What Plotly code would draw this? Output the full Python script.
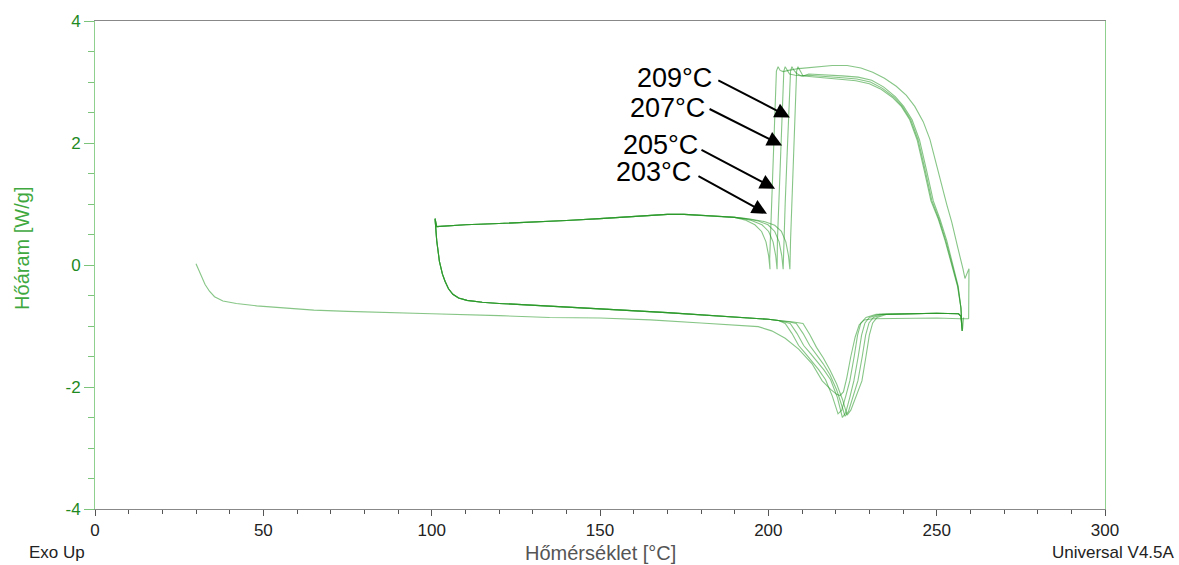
import plotly.graph_objects as go

# ---------------- data ----------------
# first heating 30 -> 260 C
heat1_T = [30, 30.6, 31.5, 32.7, 34, 35.5, 38, 42, 48, 55, 65, 75, 90, 100, 120, 135, 150, 165,
           180, 190, 197, 201, 205, 209, 213, 216, 218.5, 220.3, 221.3, 222.3, 223.3, 224.5, 225.8,
           227, 228.5, 231, 240, 250, 257, 259.5]
heat1_HF = [0.02, -0.05, -0.18, -0.32, -0.43, -0.52, -0.59, -0.63, -0.67, -0.70, -0.74, -0.76, -0.79,
            -0.80, -0.83, -0.86, -0.87, -0.90, -0.95, -0.98, -1.01, -1.08, -1.2, -1.38, -1.62, -1.9,
            -2.04, -2.12, -2.14, -2.08, -1.85, -1.5, -1.18, -0.98, -0.9, -0.88, -0.87, -0.87, -0.88, -0.88]

# cooling segments (260 C -> isothermal step)
coolA_T = [259.5, 259.6, 258.4, 257.8, 256.2, 254.5, 253, 251, 249.5, 248, 246, 243.5, 241, 238,
           234.5, 231, 227.5, 223.4, 219, 214, 209, 206, 204.4, 203.5, 202.9, 202.4, 202.0, 201.4,
           200.9, 200.5, 200.4, 200.5]
coolA_HF = [-0.88, -0.06, -0.22, -0.06, 0.3, 0.7, 0.99, 1.42, 1.75, 2.06, 2.35, 2.6, 2.78, 2.93,
            3.06, 3.16, 3.23, 3.27, 3.27, 3.25, 3.22, 3.19, 3.17, 3.19, 3.25, 3.18, 2.6, 1.7,
            1.0, 0.4, 0.1, -0.07]
coolB_T = [257.6, 257.2, 256.2, 254.5, 252.5, 250.5, 248.3, 246.3, 244.2, 242, 239.5, 237, 233.5,
           230, 226, 222, 216, 211, 208, 206.3, 205.5, 205.0, 204.6, 204.2, 203.7, 203.1, 202.7, 202.6]
coolB_HF = [-1.08, -0.7, -0.35, 0.0, 0.4, 0.75, 1.05, 1.55, 2.05, 2.38, 2.6, 2.74, 2.88, 2.97, 3.02,
            3.04, 3.07, 3.09, 3.11, 3.13, 3.2, 3.25, 3.18, 2.6, 1.7, 1.0, 0.4, -0.07]
coolC_T = [257.6, 257.2, 256.3, 254.7, 252.7, 250.7, 248.6, 246.6, 244.5, 242.3, 239.8, 237.3, 233.8,
           230.3, 226.3, 222, 216, 212, 209.8, 208.4, 207.5, 207.0, 206.6, 206.1, 205.5, 205.0, 204.6, 204.4]
coolC_HF = [-1.08, -0.7, -0.35, 0.0, 0.4, 0.75, 1.05, 1.55, 2.05, 2.38, 2.6, 2.75, 2.9, 3.0, 3.05,
            3.07, 3.1, 3.11, 3.1, 3.14, 3.2, 3.25, 3.18, 2.6, 1.7, 1.0, 0.4, -0.07]
coolD_T = [257.6, 257.2, 256.4, 254.9, 253.0, 251.0, 249.0, 247.0, 244.9, 242.7, 240.2, 237.7, 234.2,
           230.7, 226.7, 222, 216, 212, 210.3, 209.3, 208.8, 208.4, 208.0, 207.5, 207.0, 206.6, 206.4]
coolD_HF = [-1.08, -0.7, -0.35, 0.0, 0.4, 0.75, 1.05, 1.55, 2.05, 2.38, 2.6, 2.76, 2.92, 3.03, 3.08,
            3.1, 3.12, 3.13, 3.1, 3.2, 3.25, 3.18, 2.6, 1.7, 1.0, 0.4, -0.07]

# recovery arcs after the isothermal step
arcA_T = [200.1, 199.3, 198.0, 196.0, 193.0]
arcA_HF = [0.15, 0.38, 0.55, 0.66, 0.74]
arcB_T = [202.2, 201.4, 200.1, 198.1, 195.0, 192.5]
arcB_HF = [0.15, 0.38, 0.55, 0.66, 0.73, 0.76]
arcC_T = [204.0, 203.2, 201.9, 199.9, 197.0, 193.5]
arcC_HF = [0.15, 0.38, 0.55, 0.66, 0.72, 0.76]
arcD_T = [206.0, 205.2, 203.9, 201.9, 199.0, 195.0, 192.0]
arcD_HF = [0.15, 0.38, 0.55, 0.65, 0.71, 0.75, 0.77]

# further cooling down to 100 C
coolLow_T = [190, 185, 180, 175, 170, 165, 160, 150, 140, 130, 120, 110, 105, 101.5]
coolLow_HF = [0.78, 0.80, 0.82, 0.83, 0.83, 0.81, 0.79, 0.76, 0.73, 0.70, 0.68, 0.66, 0.64, 0.63]

# start of each re-heating
heatStart_T = [101.0, 101.5, 102.3, 103.2, 104.0, 105.0, 106.3, 108.0, 110.5, 115, 120, 135, 150, 170, 190, 200]
heatStart_HF = [0.76, 0.40, 0.06, -0.15, -0.27, -0.39, -0.48, -0.54, -0.58, -0.61, -0.63, -0.68,
                -0.72, -0.78, -0.85, -0.89]

# melting part of each re-heating
meltA_T = [203, 205, 207, 209, 211, 213, 215, 217, 219, 220.7, 221.8, 223.0, 224.2, 225.5, 226.5,
           227.5, 229, 232, 240, 250, 256.5, 257.2, 257.6]
meltA_HF = [-0.91, -0.96, -1.12, -1.32, -1.45, -1.58, -1.72, -1.88, -2.15, -2.44, -2.38, -2.15, -1.9,
            -1.5, -1.15, -0.95, -0.86, -0.81, -0.80, -0.79, -0.80, -0.84, -1.08]
meltB_T = [203, 206.5, 208.5, 210.5, 212.5, 214.5, 216.5, 218.5, 220.5, 222.0, 223.0, 224.2, 225.4,
           226.7, 227.7, 228.7, 230, 233, 240, 250, 256.5, 257.2, 257.6]
meltB_HF = [-0.91, -0.96, -1.12, -1.32, -1.45, -1.58, -1.72, -1.88, -2.17, -2.5, -2.42, -2.17, -1.9,
            -1.5, -1.15, -0.95, -0.86, -0.81, -0.80, -0.79, -0.80, -0.84, -1.08]
meltC_T = [203, 206, 208.3, 210.3, 212.3, 214.3, 216.3, 218.3, 220.3, 221.5, 222.8, 223.8, 225.0,
           226.6, 227.9, 228.9, 229.9, 231.2, 234, 240, 250, 256.5, 257.2, 257.6]
meltC_HF = [-0.91, -0.93, -0.96, -1.12, -1.32, -1.47, -1.62, -1.8, -2.05, -2.25, -2.48, -2.4, -2.17,
            -1.9, -1.5, -1.15, -0.95, -0.86, -0.81, -0.80, -0.79, -0.80, -0.84, -1.08]
meltD_T = [203, 207, 210.3, 212.3, 214.3, 216.3, 218.3, 220.3, 222, 223.4, 224.5, 226, 227.8, 229,
           230, 231, 232.3, 235, 240, 250, 256.5, 257.2, 257.7, 258.0]
meltD_HF = [-0.91, -0.93, -0.96, -1.14, -1.35, -1.52, -1.72, -1.95, -2.2, -2.46, -2.38, -2.15, -1.9,
            -1.5, -1.15, -0.95, -0.86, -0.81, -0.80, -0.79, -0.80, -0.84, -1.05, -0.86]

# labels of the isothermal steps
step_labels = ["209°C", "207°C", "205°C", "203°C"]
label_T = [172.0, 169.9, 167.9, 166.0]
label_HF = [3.07, 2.58, 1.96, 1.52]
arrow_tail_T = [184.7, 182.1, 179.7, 178.8]
arrow_tail_HF = [3.04, 2.57, 1.90, 1.47]
arrow_tip_T = [206.4, 204.1, 202.0, 199.6]
arrow_tip_HF = [2.42, 1.96, 1.25, 0.84]

x_ticks = [0, 50, 100, 150, 200, 250, 300]
y_ticks = [-4, -2, 0, 2, 4]
y_ticktext = ["-4", "-2", "0", "2", "4"]

# ---------------- figure ----------------
LINE = dict(color="rgba(35,150,35,0.55)", width=1.1)
FONT = "Arial, Liberation Sans, sans-serif"

segments = [
    (heat1_T, heat1_HF),
    (coolA_T + arcA_T + coolLow_T + heatStart_T + meltA_T,
     coolA_HF + arcA_HF + coolLow_HF + heatStart_HF + meltA_HF),
    (coolB_T + arcB_T + coolLow_T + heatStart_T + meltB_T,
     coolB_HF + arcB_HF + coolLow_HF + heatStart_HF + meltB_HF),
    (coolC_T + arcC_T + coolLow_T + heatStart_T + meltC_T,
     coolC_HF + arcC_HF + coolLow_HF + heatStart_HF + meltC_HF),
    (coolD_T + arcD_T + coolLow_T + heatStart_T + meltD_T,
     coolD_HF + arcD_HF + coolLow_HF + heatStart_HF + meltD_HF),
]

fig = go.Figure()
for xs, ys in segments:
    fig.add_trace(go.Scatter(x=xs, y=ys, mode="lines", line=LINE, showlegend=False,
                             hoverinfo="skip"))

annotations = []
for lab, lt, lh, at, ah, tt, th in zip(step_labels, label_T, label_HF, arrow_tail_T,
                                       arrow_tail_HF, arrow_tip_T, arrow_tip_HF):
    annotations.append(dict(x=lt, y=lh, xref="x", yref="y", text=lab, showarrow=False,
                            font=dict(family=FONT, size=27, color="black"),
                            xanchor="center", yanchor="middle"))
    annotations.append(dict(x=tt, y=th, ax=at, ay=ah, xref="x", yref="y", axref="x", ayref="y",
                            text="", showarrow=True, arrowhead=2, arrowsize=1.5, arrowwidth=2,
                            arrowcolor="black", standoff=0, startstandoff=0))

annotations += [
    dict(x=0.5, y=-0.0896, xref="paper", yref="paper", text="Hőmérséklet [°C]", showarrow=False,
         font=dict(family=FONT, size=20, color="#555555"), xanchor="center", yanchor="middle"),
    dict(x=-0.0723, y=0.535, xref="paper", yref="paper", text="Hőáram [W/g]", showarrow=False,
         textangle=-90, font=dict(family=FONT, size=20, color="#3fa93f"),
         xanchor="center", yanchor="middle"),
    dict(x=-0.0673, y=-0.0896, xref="paper", yref="paper", text="Exo Up", showarrow=False,
         font=dict(family=FONT, size=17, color="#222222"), xanchor="left", yanchor="middle"),
    dict(x=1.0713, y=-0.0896, xref="paper", yref="paper", text="Universal V4.5A", showarrow=False,
         font=dict(family=FONT, size=17, color="#222222"), xanchor="right", yanchor="middle"),
]

fig.update_layout(
    width=1179, height=565,
    margin=dict(l=95, r=74, t=18, b=56),
    paper_bgcolor="white", plot_bgcolor="white",
    font=dict(family=FONT),
    annotations=annotations,
    xaxis=dict(range=[0, 300], tickmode="array", tickvals=x_ticks,
               ticks="outside", ticklen=6, tickwidth=1, tickcolor="#555555",
               showline=True, linecolor="#888888", linewidth=1, mirror=True,
               showgrid=False, zeroline=False,
               tickfont=dict(family=FONT, size=17, color="#222222"),
               minor=dict(dtick=10, ticks="outside", ticklen=4, tickcolor="#555555", showgrid=False)),
    yaxis=dict(range=[-4, 4], tickmode="array", tickvals=y_ticks, ticktext=y_ticktext,
               ticks="outside", ticklen=10, tickwidth=1, tickcolor="#7cc47c",
               showline=True, linecolor="#8fd08f", linewidth=1, mirror=True,
               showgrid=False, zeroline=False,
               tickfont=dict(family=FONT, size=17, color="#1f8a1f"),
               minor=dict(dtick=0.5, ticks="outside", ticklen=6, tickcolor="#7cc47c", showgrid=False)),
)

fig.write_html("out.html",
               config={"displayModeBar": False},
               post_script="document.body.style.margin='0px';document.body.style.padding='0px';"
                           "document.body.style.overflow='hidden';")
